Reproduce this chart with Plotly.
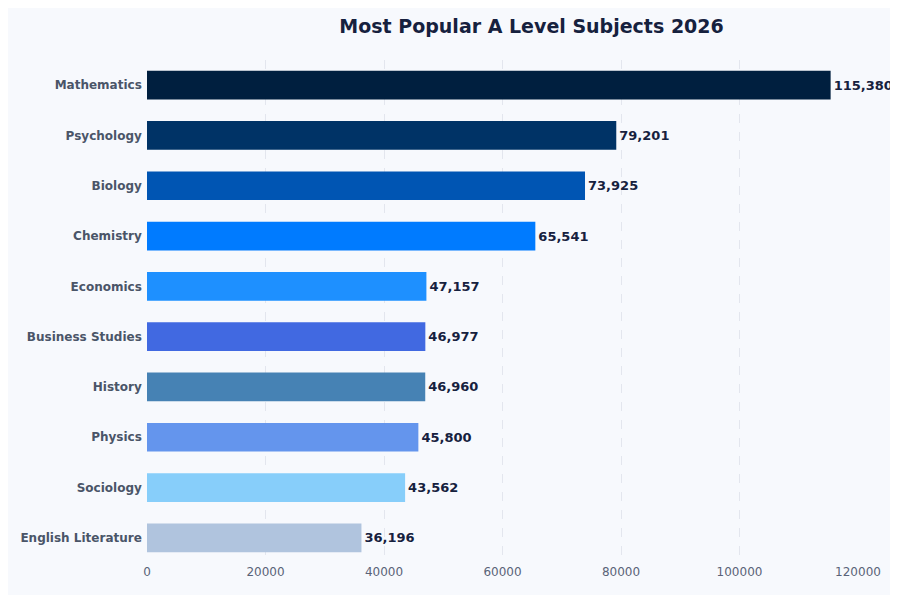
import plotly.graph_objects as go

subjects = ["Mathematics", "Psychology", "Biology", "Chemistry", "Economics",
            "Business Studies", "History", "Physics", "Sociology", "English Literature"]
entries = [115380, 79201, 73925, 65541, 47157, 46977, 46960, 45800, 43562, 36196]
colors = ["#001f3f", "#003366", "#0055b3", "#007bff", "#1e90ff",
          "#4169e1", "#4682b4", "#6495ed", "#87cefa", "#b0c4de"]
tick_vals = [0, 20000, 40000, 60000, 80000, 100000, 120000]

fig = go.Figure(go.Bar(
    x=entries, y=subjects, orientation="h",
    marker=dict(color=colors, line=dict(width=0)),
    width=0.57,
    text=[f"{v:,}" for v in entries], textposition="outside",
    textfont=dict(family="DejaVu Sans", size=13, color="#16213e", weight="bold"),
    cliponaxis=False,
))
fig.update_layout(
    width=898, height=595,
    margin=dict(l=126, r=48, t=52, b=40),
    paper_bgcolor="#f7f9fd", plot_bgcolor="#f7f9fd",
    title=dict(text="<b>Most Popular A Level Subjects 2026</b>", x=0.583, xref="container",
               xanchor="center", y=0.98, yanchor="top",
               font=dict(family="DejaVu Sans", size=19, color="#16213e")),
    showlegend=False,
    bargap=0.43,
)
fig.update_xaxes(range=[0, 120000], tickvals=tick_vals, tickformat="d",
                 showgrid=True, gridcolor="#e3e6ee", griddash="dash", zeroline=False,
                 tickfont=dict(family="DejaVu Sans", size=12, color="#5a6378"))
fig.update_yaxes(autorange="reversed", showgrid=False, ticksuffix=" ",
                 tickfont=dict(family="DejaVu Sans", size=12, color="#4a5568", weight="bold"))
fig.write_html("out.html")
